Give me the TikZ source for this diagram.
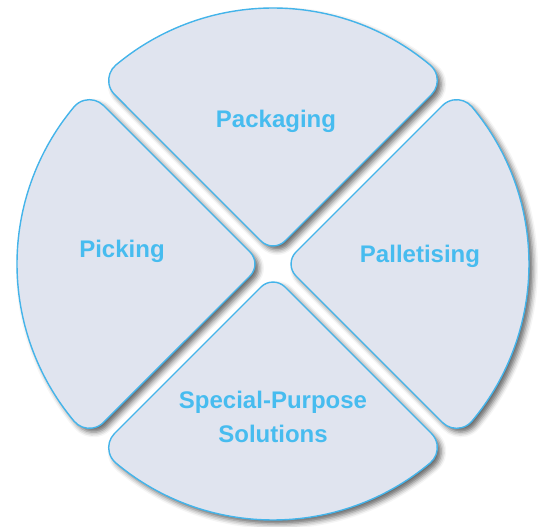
\documentclass[tikz,border=0pt]{standalone}
\usepackage{fontspec}
\setmainfont{Liberation Sans}
\usetikzlibrary{calc}
\usetikzlibrary{shadows.blur}

\definecolor{segfill}{HTML}{E0E4EF}
\definecolor{segline}{HTML}{44B4EA}
\definecolor{segtext}{HTML}{47BCEF}

\begin{document}
\begin{tikzpicture}[line join=round,
					font=\fontsize{24}{34}\selectfont\bfseries]
					\tikzstyle{segment}=[draw=segline,fill=segfill,line width=1.4pt,
					blur shadow={shadow xshift=4pt,shadow yshift=-4pt,shadow blur radius=5pt,shadow opacity=60}]
					\tikzstyle{segtitle}=[text=segtext,align=center]
					
					\useasboundingbox (-273pt,-263pt) rectangle (277pt,264pt);
					
					% top
					\draw[segment] ($(90:11pt)+(45:17pt)$) -- ($(90:11pt)+(45:224.11pt)$)
					arc[start angle=-45,end angle=50.1,radius=20pt]
					arc[start angle=50.1,end angle=129.9,radius=245pt]
					arc[start angle=129.9,end angle=225,radius=20pt]
					-- ($(90:11pt)+(135:17pt)$)
					arc[start angle=225,end angle=315,radius=17pt] -- cycle;
					% left
					\draw[segment] ($(180:11pt)+(135:17pt)$) -- ($(180:11pt)+(135:224.11pt)$)
					arc[start angle=45,end angle=140.1,radius=20pt]
					arc[start angle=140.1,end angle=219.9,radius=245pt]
					arc[start angle=219.9,end angle=315,radius=20pt]
					-- ($(180:11pt)+(225:17pt)$)
					arc[start angle=315,end angle=405,radius=17pt] -- cycle;
					% right
					\draw[segment] ($(0:11pt)+(-45:17pt)$) -- ($(0:11pt)+(-45:224.11pt)$)
					arc[start angle=-135,end angle=-39.9,radius=20pt]
					arc[start angle=-39.9,end angle=39.9,radius=245pt]
					arc[start angle=39.9,end angle=135,radius=20pt]
					-- ($(0:11pt)+(45:17pt)$)
					arc[start angle=135,end angle=225,radius=17pt] -- cycle;
					% bottom
					\draw[segment] ($(270:11pt)+(225:17pt)$) -- ($(270:11pt)+(225:224.11pt)$)
					arc[start angle=135,end angle=230.1,radius=20pt]
					arc[start angle=230.1,end angle=309.9,radius=245pt]
					arc[start angle=309.9,end angle=405,radius=20pt]
					-- ($(270:11pt)+(315:17pt)$)
					arc[start angle=405,end angle=495,radius=17pt] -- cycle;
					
					\node[segtitle,anchor=base] (packaging)   at (3pt,136pt)   {Packaging};
					\node[segtitle,anchor=base] (picking)     at (-151pt,6pt)  {Picking};
					\node[segtitle,anchor=base] (palletising) at (147pt,1pt)   {Palletising};
					\node[segtitle]             (special)     at (0pt,-153pt)  {Special-Purpose\\Solutions};
					
\end{tikzpicture}
\end{document}
